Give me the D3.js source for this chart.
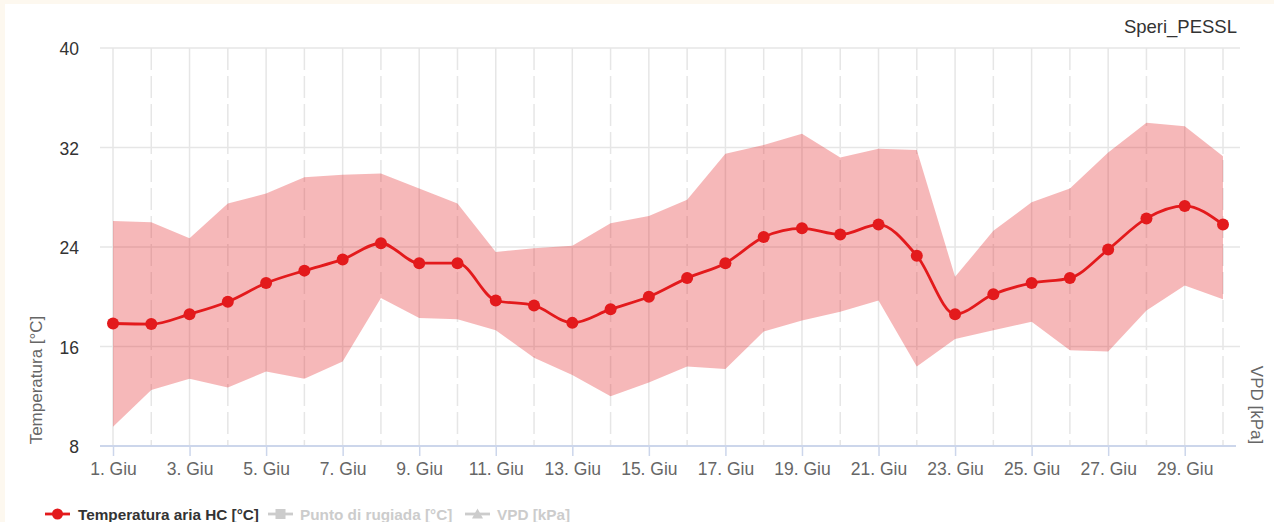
<!DOCTYPE html>
<html><head><meta charset="utf-8">
<script src="https://cdn.jsdelivr.net/npm/d3@7"></script>
<style>
html,body{margin:0;padding:0;background:#fdf8ef;}
svg{display:block;font-family:"Liberation Sans",Arial,sans-serif;}
</style></head>
<body>
<svg id="c" width="1274" height="522"></svg>
<script>
const days = d3.range(1, 31);
const tickDays = [1,3,5,7,9,11,13,15,17,19,21,23,25,27,29];
const yTicks = [8,16,24,32,40];
const tempMean = [17.85,17.8,18.6,19.6,21.1,22.1,23.0,24.3,22.7,22.7,19.7,19.3,17.9,19.0,20.0,21.5,22.7,24.8,25.5,25.0,25.8,23.3,18.6,20.2,21.1,21.5,23.8,26.3,27.3,25.8];
const tempMax = [26.1,26.0,24.7,27.5,28.3,29.6,29.8,29.9,28.7,27.5,23.6,23.9,24.1,25.9,26.5,27.8,31.5,32.2,33.1,31.2,31.9,31.8,21.6,25.3,27.6,28.7,31.6,34.0,33.7,31.3];
const tempMin = [9.55,12.5,13.4,12.7,14.0,13.4,14.8,19.9,18.3,18.2,17.3,15.1,13.7,12.0,13.1,14.4,14.2,17.2,18.1,18.8,19.7,14.4,16.6,17.3,18.0,15.7,15.6,18.9,20.9,19.8];
const legendItems = ["Temperatura aria HC [°C]","Punto di rugiada [°C]","VPD [kPa]"];

const svg = d3.select("#c");
svg.append("rect").attr("x",5).attr("y",4).attr("width",1269).attr("height",518).attr("fill","#fff");

const x = d3.scaleLinear().domain([1,30]).range([113,1223]);
const y = d3.scaleLinear().domain([8,40]).range([446,48]);
const plotL = 100, plotR = 1240;

// horizontal grid
svg.append("g").selectAll("line").data(yTicks.filter(d=>d>8)).join("line")
  .attr("x1",plotL).attr("x2",plotR).attr("y1",d=>y(d)).attr("y2",d=>y(d))
  .attr("stroke","#e6e6e6").attr("stroke-width",1.5);
// vertical grid
svg.append("g").selectAll("line").data(days).join("line")
  .attr("x1",d=>x(d)).attr("x2",d=>x(d)).attr("y1",y(40)).attr("y2",y(8))
  .attr("stroke","#e6e6e6").attr("stroke-width",1.5)
  .attr("stroke-dasharray",d=>d%2===0?"22,6":null);

// area range
const area = d3.area().x((d,i)=>x(days[i])).y0((d,i)=>y(tempMin[i])).y1((d,i)=>y(tempMax[i]));
svg.append("path").datum(tempMax).attr("d",area).attr("fill","#e31a1c").attr("fill-opacity",0.31);

// x axis
const xAxis = d3.axisBottom(x).tickValues(tickDays).tickSize(10).tickFormat(d=>d+". Giu");
const gx = svg.append("g").attr("transform",`translate(0,${y(8)})`).call(xAxis);
gx.select(".domain").remove();
gx.selectAll(".tick line").attr("stroke","#ccd6eb").attr("stroke-width",1.5);
gx.selectAll(".tick text").attr("fill","#666").attr("font-size",17.5).attr("dy",null).attr("y",29);
svg.append("line").attr("x1",plotL).attr("x2",1236).attr("y1",y(8)).attr("y2",y(8)).attr("stroke","#ccd6eb").attr("stroke-width",2);

// y axis labels
const yAxis = d3.axisLeft(y).tickValues(yTicks).tickSize(0);
const gy = svg.append("g").attr("transform","translate(81,0)").call(yAxis);
gy.select(".domain").remove();
gy.selectAll(".tick text").attr("fill","#333").attr("font-size",17.5).attr("x",-2).attr("dy","0.38em");

// line
const line = d3.line().x((d,i)=>x(days[i])).y(d=>y(d)).curve(d3.curveMonotoneX);
svg.append("path").datum(tempMean).attr("d",line).attr("fill","none").attr("stroke","#e31a1c").attr("stroke-width",2.8);
svg.append("g").selectAll("circle").data(tempMean).join("circle")
  .attr("cx",(d,i)=>x(days[i])).attr("cy",d=>y(d)).attr("r",6).attr("fill","#e31a1c");

// titles
svg.append("text").attr("transform","translate(42,380) rotate(-90)").attr("text-anchor","middle")
  .attr("fill","#666").attr("font-size",17).text("Temperatura [°C]");
svg.append("text").attr("transform","translate(1251,405) rotate(90)").attr("text-anchor","middle")
  .attr("fill","#666").attr("font-size",17).text("VPD [kPa]");
svg.append("text").attr("x",1237).attr("y",33).attr("text-anchor","end")
  .attr("fill","#333").attr("font-size",18.5).text("Speri_PESSL");

// legend
const lg = svg.append("g").attr("font-size",15.3).attr("font-weight","bold");
const leg = [{x:45,tx:78,c:"#e31a1c",tc:"#333",m:"circle"},{x:268,tx:300,c:"#cccccc",tc:"#cccccc",m:"square"},{x:465,tx:497,c:"#cccccc",tc:"#cccccc",m:"triangle"}];
leg.forEach((o,i)=>{
  const g = lg.append("g");
  g.append("line").attr("x1",o.x).attr("x2",o.x+25).attr("y1",514).attr("y2",514).attr("stroke",o.c).attr("stroke-width",2.8);
  const cx=o.x+12.5;
  if(o.m==="circle") g.append("circle").attr("cx",cx).attr("cy",514).attr("r",5.5).attr("fill",o.c);
  else if(o.m==="square") g.append("rect").attr("x",cx-5).attr("y",509).attr("width",10).attr("height",10).attr("fill",o.c);
  else g.append("path").attr("d",`M${cx},508.5 L${cx+5.5},518.5 L${cx-5.5},518.5 Z`).attr("fill",o.c);
  g.append("text").attr("x",o.tx).attr("y",519.5).attr("fill",o.tc).text(legendItems[i]);
});
</script>
</body></html>
